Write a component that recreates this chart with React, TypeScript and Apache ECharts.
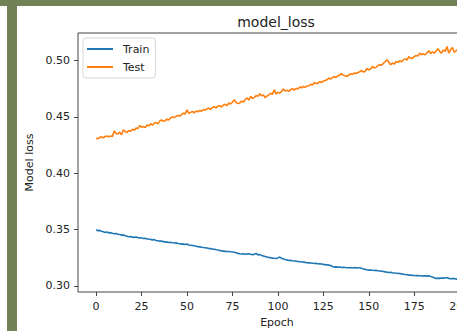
import React, { useEffect, useRef } from "react";
import * as echarts from "echarts";

const trainLoss: number[] = [
  0.3495, 0.3490, 0.3492, 0.3485, 0.3480, 0.3474, 0.3478, 0.3470, 0.3472, 0.3466,
  0.3462, 0.3465, 0.3458, 0.3456, 0.3450, 0.3452, 0.3445, 0.3440, 0.3435, 0.3438,
  0.3432, 0.3430, 0.3433, 0.3428, 0.3426, 0.3424, 0.3420, 0.3422, 0.3416, 0.3415,
  0.3412, 0.3408, 0.3410, 0.3403, 0.3400, 0.3397, 0.3398, 0.3392, 0.3390, 0.3388,
  0.3385, 0.3387, 0.3382, 0.3380, 0.3383, 0.3376, 0.3374, 0.3370, 0.3372, 0.3366,
  0.3371, 0.3362, 0.3360, 0.3358, 0.3355, 0.3352, 0.3348, 0.3346, 0.3343, 0.3340,
  0.3338, 0.3335, 0.3331, 0.3330, 0.3326, 0.3324, 0.3320, 0.3318, 0.3314, 0.3310,
  0.3308, 0.3306, 0.3304, 0.3305, 0.3302, 0.3300, 0.3298, 0.3293, 0.3288, 0.3284,
  0.3282, 0.3285, 0.3280, 0.3283, 0.3284, 0.3280, 0.3276, 0.3279, 0.3288, 0.3275,
  0.3278, 0.3270, 0.3265, 0.3260, 0.3255, 0.3252, 0.3250, 0.3246, 0.3244, 0.3242,
  0.3248, 0.3255, 0.3245, 0.3238, 0.3233, 0.3230, 0.3225, 0.3226, 0.3222, 0.3220,
  0.3218, 0.3216, 0.3213, 0.3214, 0.3210, 0.3208, 0.3205, 0.3204, 0.3202, 0.3200,
  0.3198, 0.3199, 0.3196, 0.3195, 0.3193, 0.3190, 0.3188, 0.3186, 0.3184, 0.3180,
  0.3172, 0.3166, 0.3168, 0.3165, 0.3167, 0.3163, 0.3164, 0.3162, 0.3160, 0.3161,
  0.3160, 0.3158, 0.3162, 0.3159, 0.3161, 0.3160, 0.3155, 0.3150, 0.3146, 0.3142,
  0.3139, 0.3141, 0.3138, 0.3136, 0.3137, 0.3133, 0.3131, 0.3130, 0.3127, 0.3124,
  0.3121, 0.3118, 0.3119, 0.3116, 0.3114, 0.3112, 0.3110, 0.3109, 0.3106, 0.3103,
  0.3100, 0.3098, 0.3095, 0.3096, 0.3093, 0.3092, 0.3090, 0.3091, 0.3089, 0.3087,
  0.3090, 0.3088, 0.3086, 0.3089, 0.3083, 0.3078, 0.3072, 0.3065, 0.3068, 0.3066,
  0.3070, 0.3068, 0.3072, 0.3071, 0.3066, 0.3062, 0.3064, 0.3065, 0.3060, 0.3055,
];

const testLoss: number[] = [
  0.4310, 0.4305, 0.4318, 0.4322, 0.4315, 0.4326, 0.4330, 0.4324, 0.4331, 0.4325,
  0.4376, 0.4352, 0.4348, 0.4365, 0.4340, 0.4385, 0.4370, 0.4362, 0.4378, 0.4372,
  0.4390, 0.4381, 0.4402, 0.4395, 0.4424, 0.4408, 0.4415, 0.4405, 0.4428, 0.4420,
  0.4440, 0.4426, 0.4445, 0.4450, 0.4438, 0.4462, 0.4474, 0.4460, 0.4468, 0.4480,
  0.4472, 0.4490, 0.4500, 0.4494, 0.4505, 0.4512, 0.4508, 0.4520, 0.4534, 0.4525,
  0.4563, 0.4532, 0.4540, 0.4548, 0.4536, 0.4552, 0.4545, 0.4557, 0.4550, 0.4566,
  0.4560, 0.4572, 0.4578, 0.4565, 0.4584, 0.4590, 0.4580, 0.4596, 0.4599, 0.4588,
  0.4605, 0.4612, 0.4600, 0.4623, 0.4615, 0.4630, 0.4652, 0.4628, 0.4618, 0.4623,
  0.4640, 0.4632, 0.4655, 0.4667, 0.4650, 0.4680, 0.4665, 0.4672, 0.4690, 0.4682,
  0.4705, 0.4688, 0.4695, 0.4670, 0.4685, 0.4696, 0.4710, 0.4700, 0.4740, 0.4705,
  0.4718, 0.4711, 0.4725, 0.4747, 0.4730, 0.4738, 0.4726, 0.4742, 0.4750, 0.4738,
  0.4755, 0.4748, 0.4765, 0.4758, 0.4770, 0.4762, 0.4775, 0.4776, 0.4790, 0.4782,
  0.4806, 0.4795, 0.4800, 0.4814, 0.4805, 0.4818, 0.4823, 0.4830, 0.4845, 0.4836,
  0.4848, 0.4859, 0.4850, 0.4866, 0.4872, 0.4883, 0.4870, 0.4865, 0.4859, 0.4872,
  0.4883, 0.4878, 0.4890, 0.4885, 0.4894, 0.4900, 0.4912, 0.4898, 0.4905, 0.4930,
  0.4918, 0.4925, 0.4948, 0.4935, 0.4942, 0.4955, 0.4963, 0.4958, 0.4975, 0.4990,
  0.5007, 0.4985, 0.4963, 0.4978, 0.4970, 0.4992, 0.4985, 0.4998, 0.4990, 0.5007,
  0.5015, 0.5005, 0.5036, 0.5018, 0.5022, 0.5035, 0.5045, 0.5040, 0.5066, 0.5052,
  0.5060, 0.5051, 0.5070, 0.5087, 0.5062, 0.5078, 0.5066, 0.5085, 0.5105, 0.5080,
  0.5066, 0.5095, 0.5082, 0.5125, 0.5066, 0.5098, 0.5117, 0.5075, 0.5087, 0.5100,
];

const xTicks: number[] = [0, 25, 50, 75, 100, 125, 150, 175, 200];
const yTicks: number[] = [0.3, 0.35, 0.4, 0.45, 0.5];

const FONT = "DejaVu Sans";
const TXT = "#222";
const SPINE = "#444";
const FRAME = "#738157";

export default function App() {
  const ref = useRef<HTMLDivElement>(null);

  useEffect(() => {
    if (!ref.current) return;
    const chart = echarts.init(ref.current, undefined, { renderer: "svg" });
    const option: any = {
      animation: false,
      backgroundColor: "#fff",
      textStyle: { fontFamily: FONT },
      title: {
        text: "model_loss",
        left: 271,
        top: 10,
        textAlign: "center",
        textStyle: { fontFamily: FONT, fontSize: 14, fontWeight: "normal", color: TXT },
      },
      legend: {
        orient: "vertical",
        left: 83,
        top: 38,
        padding: [4, 6, 4, 4],
        icon: "rect",
        itemWidth: 26,
        itemHeight: 2,
        itemGap: 4,
        backgroundColor: "rgba(255,255,255,0.8)",
        borderColor: "#d6d6d6",
        borderWidth: 1,
        borderRadius: 3,
        textStyle: { fontFamily: FONT, fontSize: 11, lineHeight: 14, color: TXT, padding: [0, 0, 0, 5] },
        data: ["Train", "Test"],
      },
      grid: {
        left: 78,
        top: 33,
        width: 398,
        height: 259,
        show: true,
        outerBoundsMode: "none",
        containLabel: false,
        borderColor: SPINE,
        borderWidth: 1,
        backgroundColor: "transparent",
      },
      xAxis: {
        type: "value",
        min: -9.95,
        max: 208.95,
        name: "Epoch",
        nameLocation: "middle",
        nameGap: 25,
        nameTextStyle: { fontFamily: FONT, fontSize: 11, color: TXT },
        axisLine: { show: false, onZero: false },
        splitLine: { show: false },
        axisTick: { show: true, length: 4, customValues: xTicks, lineStyle: { color: SPINE } },
        axisLabel: {
          customValues: xTicks,
          margin: 9,
          fontFamily: FONT,
          fontSize: 11,
          color: TXT,
          formatter: (v: number) => String(v),
        },
      },
      yAxis: {
        type: "value",
        min: 0.2945,
        max: 0.5245,
        name: "Model loss",
        nameLocation: "middle",
        nameGap: 42,
        nameTextStyle: { fontFamily: FONT, fontSize: 11, color: TXT },
        axisLine: { show: false, onZero: false },
        splitLine: { show: false },
        axisTick: { show: true, length: 4, customValues: yTicks, lineStyle: { color: SPINE } },
        axisLabel: {
          customValues: yTicks,
          margin: 8,
          fontFamily: FONT,
          fontSize: 11,
          color: TXT,
          formatter: (v: number) => v.toFixed(2),
        },
      },
      graphic: [
        { type: "rect", shape: { x: 0, y: 0, width: 520, height: 6 }, style: { fill: FRAME }, z: 100 },
        { type: "rect", shape: { x: 7, y: 0, width: 10, height: 331 }, style: { fill: FRAME }, z: 100 },
      ],
      series: [
        {
          name: "Train",
          type: "line",
          symbol: "none",
          showSymbol: false,
          lineStyle: { color: "#1f77b4", width: 1.6 },
          itemStyle: { color: "#1f77b4" },
          data: trainLoss.map((v, i) => [i, v]),
        },
        {
          name: "Test",
          type: "line",
          symbol: "none",
          showSymbol: false,
          lineStyle: { color: "#ff7f0e", width: 1.6 },
          itemStyle: { color: "#ff7f0e" },
          data: testLoss.map((v, i) => [i, v]),
        },
      ],
    };
    chart.setOption(option);
    return () => chart.dispose();
  }, []);

  return (
    <div
      style={{
        position: "fixed",
        left: 0,
        top: 0,
        width: 457,
        height: 331,
        overflow: "hidden",
        background: "#fff",
      }}
    >
      <div ref={ref} style={{ width: 520, height: 331 }} />
    </div>
  );
}
